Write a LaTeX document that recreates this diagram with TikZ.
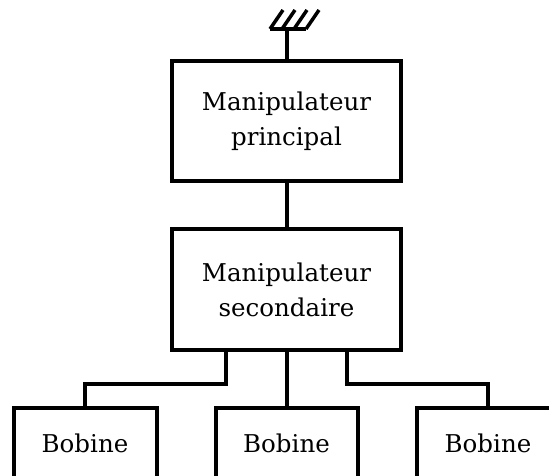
\documentclass[tikz,border=0pt]{standalone}
\usepackage{fontspec}
\setmainfont{DejaVu Serif}
\tikzset{
  blk/.style={draw, line width=4pt, align=center, inner sep=0pt,
    font=\fontsize{24.5}{35}\selectfont},
  wire/.style={line width=4pt},
  hatch/.style={line width=3.5pt},
}
\begin{document}
\begin{tikzpicture}[x=1pt,y=-1pt]
\useasboundingbox (0,0) rectangle (549,476);
\clip (0,0) rectangle (549,476);
\node[blk, minimum width=229pt, minimum height=120pt] (top) at (286.5,121) {Manipulateur\\principal};
\node[blk, minimum width=229pt, minimum height=121pt] (sec) at (286.5,289.5) {Manipulateur\\secondaire};
\node[blk, minimum width=143pt, minimum height=70pt] (b1) at (85,443) {Bobine};
\node[blk, minimum width=142pt, minimum height=70pt] (b2) at (286.5,443) {Bobine};
\node[blk, minimum width=142pt, minimum height=70pt] (b3) at (488,443) {Bobine};
% ground symbol
\coordinate (g) at (top.north |- 0,29);
\draw[wire] (270,29) -- (306,29);
\foreach \hx in {270,282,294,306}{\draw[hatch] (\hx,29) -- ++(13,-19);}
\draw[wire] (g) -- (top.north);
\draw[wire] (top.south) -- (sec.north);
\draw[wire] ([xshift=-60.5pt]sec.south) -- ++(0,32) -| (b1.north);
\draw[wire] (sec.south) -- (b2.north);
\draw[wire] ([xshift=60.5pt]sec.south) -- ++(0,32) -| (b3.north);
\end{tikzpicture}
\end{document}
